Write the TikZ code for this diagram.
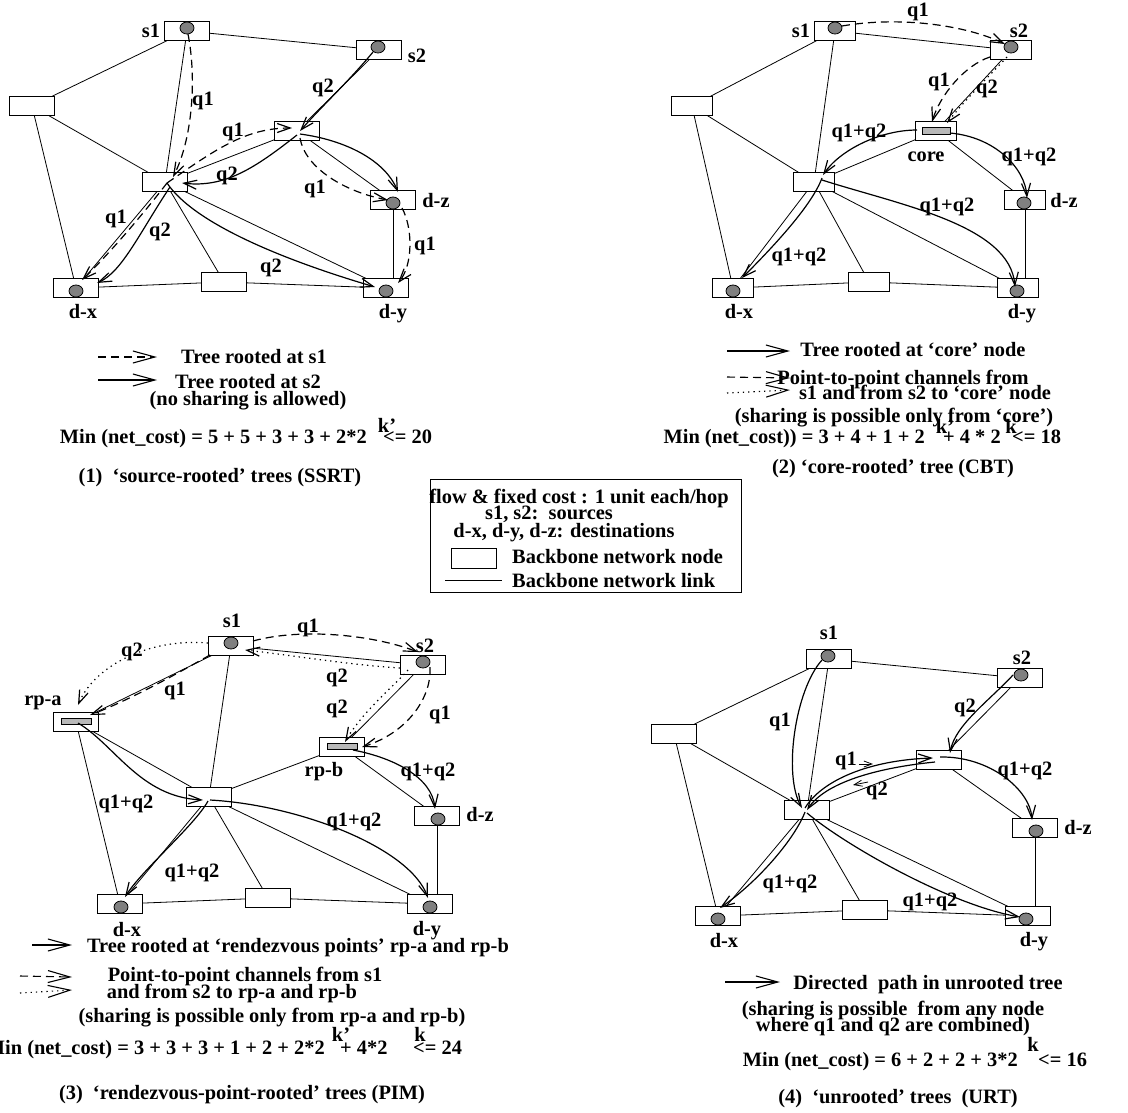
\documentclass[tikz,border=0pt]{standalone}
\usepackage{fontspec}
\setmainfont{Liberation Serif}
\usetikzlibrary{arrows.meta,shapes.geometric}
\tikzset{
  every node/.style={font=\fontsize{20.4}{21}\selectfont\bfseries},
  box/.style={draw, rectangle, minimum width=44.5pt, minimum height=18.5pt, inner sep=0pt, line width=0.9pt, fill=white},
  boxb/.style={box, minimum width=41pt},
  dot/.style={draw, ellipse, minimum width=14pt, minimum height=12pt, inner sep=0pt, fill=black!50, line width=0.8pt},
  bar/.style={draw, rectangle, minimum width=28pt, minimum height=6.5pt, inner sep=0pt, fill=black!28, line width=0.8pt},
  link/.style={line width=0.8pt},
  flow/.style={line width=1.2pt, -{Straight Barb[length=13pt,width=9pt]}},
  dsh/.style={dash pattern=on 8pt off 5pt},
  dtt/.style={dash pattern=on 1.3pt off 4pt},
  lgarrow/.style={line width=1.1pt, -{Straight Barb[length=22pt,width=12pt]}},
  smallarr/.style={line width=0.8pt, -{Straight Barb[length=8pt,width=6pt]}},
  lbl/.style={inner sep=0pt},
  txt/.style={inner sep=0pt, anchor=base},
}
\begin{document}
\begin{tikzpicture}[x=1pt,y=-1pt]
\useasboundingbox (0,0) rectangle (1128,1112);

% ---------------- Panel A (top-left) ----------------
\node[box] (a-s1) at (187,31) {};
\node[box] (a-s2) at (379,50) {};
\node[box] (a-L)  at (32,106) {};
\node[box] (a-H)  at (165,182) {};
\node[box] (a-M)  at (297,131) {};
\node[box] (a-dz) at (393,200) {};
\node[box] (a-dx) at (76,288) {};
\node[box] (a-B)  at (224,282) {};
\node[box] (a-dy) at (386,288) {};
\node[dot] (a-s1c) at (187,28) {};
\node[dot] (a-s2c) at (378,47) {};
\node[dot] (a-dzc) at (393,203) {};
\node[dot] (a-dxc) at (76,291) {};
\node[dot] (a-dyc) at (386,291) {};

% ---------------- Panel B (top-right) ----------------
\node[boxb] (b-s1) at (835,31) {};
\node[boxb] (b-s2) at (1011,50) {};
\node[boxb] (b-L)  at (692,106) {};
\node[boxb] (b-H)  at (814,182) {};
\node[boxb] (b-M)  at (936,131) {};
\node[boxb] (b-dz) at (1025,200) {};
\node[boxb] (b-dx) at (733,288) {};
\node[boxb] (b-B)  at (869,282) {};
\node[boxb] (b-dy) at (1018,288) {};
\node[dot] (b-s1c) at (835,28) {};
\node[dot] (b-s2c) at (1011,47) {};
\node[dot] (b-dzc) at (1024,203) {};
\node[dot] (b-dxc) at (733,291) {};
\node[dot] (b-dyc) at (1017,291) {};
\node[bar] (b-bar) at (936,131) {};

% ---------------- Panel C (bottom-left) ----------------
\node[box] (c-s1) at (231,646) {};
\node[box] (c-s2) at (423,665) {};
\node[box] (c-L)  at (76,722) {};
\node[box] (c-H)  at (209,797) {};
\node[box] (c-M)  at (342,747) {};
\node[box] (c-dz) at (437,816) {};
\node[box] (c-dx) at (120,904) {};
\node[box] (c-B)  at (268,898) {};
\node[box] (c-dy) at (430,904) {};
\node[dot] (c-s1c) at (231,643) {};
\node[dot] (c-s2c) at (423,662) {};
\node[dot] (c-dzc) at (438,819) {};
\node[dot] (c-dxc) at (121,907) {};
\node[dot] (c-dyc) at (430,907) {};
\node[bar, minimum width=30pt] (c-bara) at (76,721.5) {};
\node[bar, minimum width=30pt] (c-barb) at (342,746.5) {};

% ---------------- Panel D (bottom-right) ----------------
\node[box] (d-s1) at (829,659) {};
\node[box] (d-s2) at (1020,678) {};
\node[box] (d-L)  at (674,734) {};
\node[box] (d-H)  at (807,810) {};
\node[box] (d-M)  at (939,760) {};
\node[box] (d-dz) at (1035,828) {};
\node[box] (d-dx) at (718,916) {};
\node[box] (d-B)  at (865,910) {};
\node[box] (d-dy) at (1028,916) {};
\node[dot] (d-s1c) at (828,656) {};
\node[dot] (d-s2c) at (1021,675) {};
\node[dot] (d-dzc) at (1036,831) {};
\node[dot] (d-dxc) at (718,919) {};
\node[dot] (d-dyc) at (1026,919) {};

% ---------------- backbone links ----------------
\foreach \p in {a,b,c,d}{
  \draw[link] (\p-s1) -- (\p-s2);
  \draw[link] (\p-s1) -- (\p-L);
  \draw[link] (\p-s1) -- (\p-H);
  \draw[link] (\p-L) -- (\p-H);
  \draw[link] (\p-L) -- (\p-dx);
  \draw[link] (\p-H) -- (\p-M);
  \draw[link] (\p-s2) -- (\p-M);
  \draw[link] (\p-M) -- (\p-dz);
  \draw[link] (\p-H) -- (\p-dx);
  \draw[link] (\p-H) -- (\p-B);
  \draw[link] (\p-H) -- (\p-dy);
  \draw[link] (\p-dx) -- (\p-B);
  \draw[link] (\p-B) -- (\p-dy);
  \draw[link] (\p-dz.south) -- (\p-dz.south |- \p-dy.north);
}

% ---------------- flows panel A ----------------
\draw[flow,dsh] ([shift={(1,6)}]a-s1c.center) .. controls (197,80) and (192,140) .. ([shift={(8,-5)}]a-H.center);
\draw[flow,dsh] ([shift={(2,1)}]a-H.center) .. controls (215,150) and (245,128) .. ([shift={(-5,-3)}]a-M.center);
\draw[flow] ([shift={(-5,5)}]a-s2c.center) .. controls (350,80) and (322,106) .. ([shift={(3,0)}]a-M.center);
\draw[flow] ([shift={(0,4)}]a-M.center) .. controls (255,168) and (225,188) .. ([shift={(17,1)}]a-H.center);
\draw[flow,dsh] ([shift={(3,7)}]a-M.center) .. controls (305,168) and (345,192) .. ([shift={(-5,-3)}]a-dzc.center);
\draw[flow] ([shift={(3,3)}]a-M.center) .. controls (345,140) and (385,160) .. ([shift={(5,-8)}]a-dz.center);
\draw[flow,dsh] ([shift={(9,5)}]a-dzc.center) .. controls (413,228) and (413,265) .. ([shift={(12,-5)}]a-dy.center);
\draw[flow,dsh] ([shift={(2,1)}]a-H.center) .. controls (140,218) and (108,255) .. ([shift={(6,-8)}]a-dx.center);
\draw[flow] ([shift={(5,5)}]a-H.center) .. controls (140,232) and (122,272) .. ([shift={(21,-5)}]a-dx.center);
\draw[flow] ([shift={(2,1)}]a-H.center) .. controls (195,225) and (290,262) .. ([shift={(-11,-1)}]a-dy.center);

\node[lbl] (a-q1) at (203,101) {q1};
\node[lbl] (a-q2) at (323,88) {q2};
\node[lbl] (a-q3) at (233,132) {q1};
\node[lbl] (a-q4) at (227,176) {q2};
\node[lbl] (a-q5) at (315,189) {q1};
\node[lbl] (a-q6) at (425,246) {q1};
\node[lbl] (a-q7) at (116,219) {q1};
\node[lbl] (a-q8) at (160,232) {q2};
\node[lbl] (a-q9) at (271,268) {q2};
\node[lbl] (a-ts1) at (151,31) {s1};
\node[lbl] (a-ts2) at (417,56) {s2};
\node[lbl] (a-tdz) at (436,201) {d-z};
\node[lbl] (a-tdx) at (83,312) {d-x};
\node[lbl] (a-tdy) at (393,314) {d-y};

% ---------------- flows panel B ----------------
\draw[flow,dsh] ([shift={(7,-2)}]b-s1c.center) .. controls (900,16) and (965,25) .. ([shift={(-6,-3)}]b-s2c.center);
\draw[flow,dsh] ([shift={(-21,7)}]b-s2.center) .. controls (965,65) and (940,95) .. ([shift={(-4,-9)}]b-M.center);
\draw[flow,dtt] ([shift={(-4,7)}]b-s2.center) .. controls (990,75) and (965,100) .. ([shift={(11,-8)}]b-M.center);
\draw[flow] ([shift={(-19,-1)}]b-M.center) .. controls (880,130) and (840,150) .. ([shift={(9,-7)}]b-H.center);
\draw[flow] ([shift={(14,2)}]b-M.center) .. controls (995,137) and (1025,168) .. ([shift={(2,-2)}]b-dz.center);
\draw[flow] ([shift={(8,-4)}]b-H.center) .. controls (812,205) and (775,245) .. ([shift={(9,-10)}]b-dx.center);
\draw[flow] ([shift={(8,-2)}]b-H.center) .. controls (900,205) and (1010,225) .. ([shift={(-3,-1)}]b-dy.center);

\node[lbl] (b-q1) at (918,12) {q1};
\node[lbl] (b-q2) at (939,82) {q1};
\node[lbl] (b-q3) at (987,89) {q2};
\node[lbl] (b-q4) at (859,133) {q1+q2};
\node[lbl] (b-q5) at (1029,157) {q1+q2};
\node[lbl] (b-q6) at (947,207) {q1+q2};
\node[lbl] (b-q7) at (799,257) {q1+q2};
\node[lbl] (b-ts1) at (801,31) {s1};
\node[lbl] (b-ts2) at (1019,31) {s2};
\node[lbl] (b-tcore) at (926,157) {core};
\node[lbl] (b-tdz) at (1064,201) {d-z};
\node[lbl] (b-tdx) at (739,312) {d-x};
\node[lbl] (b-tdy) at (1022,314) {d-y};

% ---------------- flows panel C ----------------
\draw[flow,dsh] ([shift={(22,-5)}]c-s1.center) .. controls (300,628) and (370,634) .. ([shift={(-5,-13)}]c-s2.center);
\draw[flow,dtt] ([shift={(-23,3)}]c-s2.center) .. controls (350,665) and (290,655) .. ([shift={(14,4)}]c-s1.center);
\draw[flow,dtt] ([shift={(-23,-3)}]c-s1.center) .. controls (150,638) and (95,665) .. ([shift={(2,-17)}]c-L.center);
\draw[flow,dsh] ([shift={(-21,9)}]c-s1.center) .. controls (180,672) and (130,700) .. ([shift={(14,-7)}]c-L.center);
\draw[flow,dtt] ([shift={(-15,5)}]c-s2.center) .. controls (395,685) and (362,712) .. ([shift={(3,-5)}]c-M.center);
\draw[flow,dsh] ([shift={(7,2)}]c-s2.center) .. controls (432,695) and (410,732) .. ([shift={(20,0)}]c-M.center);
\draw[flow] ([shift={(2,1)}]c-L.center) .. controls (115,745) and (140,797) .. ([shift={(-6,3)}]c-H.center);
\draw[flow] ([shift={(1,3)}]c-H.center) .. controls (300,805) and (410,848) .. ([shift={(-2,-6)}]c-dy.center);
\draw[flow] ([shift={(-1,4)}]c-H.center) .. controls (195,825) and (142,870) .. ([shift={(5,-7)}]c-dx.center);
\draw[flow] ([shift={(11,3)}]c-M.center) .. controls (395,758) and (432,778) .. ([shift={(-2,-7)}]c-dz.center);

\node[lbl] (c-q1) at (308,628) {q1};
\node[lbl] (c-q2) at (132,652) {q2};
\node[lbl] (c-q3) at (175,691) {q1};
\node[lbl] (c-q4) at (337,678) {q2};
\node[lbl] (c-q5) at (337,709) {q2};
\node[lbl] (c-q6) at (440,715) {q1};
\node[lbl] (c-q7) at (428,772) {q1+q2};
\node[lbl] (c-q8) at (126,804) {q1+q2};
\node[lbl] (c-q9) at (354,822) {q1+q2};
\node[lbl] (c-q10) at (192,873) {q1+q2};
\node[lbl] (c-ts1) at (232,621) {s1};
\node[lbl] (c-ts2) at (425,646) {s2};
\node[lbl] (c-trpa) at (43,703) {rp-a};
\node[lbl] (c-trpb) at (324,772) {rp-b};
\node[lbl] (c-tdz) at (480,815) {d-z};
\node[lbl] (c-tdx) at (127,930) {d-x};
\node[lbl] (c-tdy) at (427,931) {d-y};

% ---------------- flows panel D ----------------
\draw[flow] ([shift={(-6,4)}]d-s1c.center) .. controls (795,690) and (783,775) .. ([shift={(-5,-2)}]d-H.center);
\draw[flow] ([shift={(-8,0)}]d-s2c.center) .. controls (990,700) and (955,725) .. ([shift={(11,-7)}]d-M.center);
\draw[flow] ([shift={(-2,-2)}]d-H.center) .. controls (822,780) and (870,760) .. ([shift={(-6,-2)}]d-M.center);
\draw[flow] ([shift={(-4,2)}]d-M.center) .. controls (875,768) and (825,783) .. ([shift={(0,0)}]d-H.center);
\draw[flow] ([shift={(1,-3)}]d-M.center) .. controls (990,756) and (1030,790) .. ([shift={(-3,-8)}]d-dz.center);
\draw[flow] ([shift={(-2,2)}]d-H.center) .. controls (795,838) and (760,880) .. ([shift={(2,-8)}]d-dx.center);
\draw[flow] ([shift={(0,3)}]d-H.center) .. controls (845,845) and (950,905) .. ([shift={(-8,1)}]d-dy.center);

\node[lbl] (d-q1) at (780,722) {q1};
\node[lbl] (d-q2) at (965,708) {q2};
\node[lbl] (d-q3) at (846,761) {q1};
\node[lbl] (d-q4) at (877,791) {q2};
\node[lbl] (d-q5) at (1025,771) {q1+q2};
\node[lbl] (d-q6) at (790,884) {q1+q2};
\node[lbl] (d-q7) at (930,902) {q1+q2};
\draw[smallarr] ([shift={(2,3)}]d-q3.east) -- ++(14,0);
\draw[smallarr] ([shift={(-9,-9)}]d-q4.center) -- ++(-15,3);
\node[lbl] (d-ts1) at (829,633) {s1};
\node[lbl] (d-ts2) at (1022,658) {s2};
\node[lbl] (d-tdz) at (1078,828) {d-z};
\node[lbl] (d-tdx) at (724,941) {d-x};
\node[lbl] (d-tdy) at (1034,942) {d-y};

% ---------------- legend panel A ----------------
\coordinate (a-la1) at (98,357);  \coordinate (a-la2) at (157,357);
\coordinate (a-lb1) at (98,380);  \coordinate (a-lb2) at (157,380);
\draw[lgarrow,dsh] (a-la1) -- (a-la2);
\draw[lgarrow] (a-lb1) -- (a-lb2);
\node[txt] (a-t1) at (254,363) {Tree rooted at s1};
\node[txt] (a-t2) at (248,388) {Tree rooted at s2};
\node[txt] (a-t3) at (248,405) {(no sharing is allowed)};
\node[txt, anchor=base east] (a-t4) at (367,443) {Min (net\_cost) = 5 + 5 + 3 + 3 + 2*2};
\node[txt] (a-t5) at (387,432) {k’};
\node[txt, anchor=base west] (a-t6) at (383,443) {<= 20};
\node[txt] (a-t7) at (220,482) {(1)\ \ ‘source-rooted’ trees (SSRT)};

% ---------------- legend panel B ----------------
\coordinate (b-la1) at (727,351); \coordinate (b-la2) at (790,351);
\coordinate (b-lb1) at (727,377); \coordinate (b-lb2) at (790,378);
\coordinate (b-lc1) at (727,393); \coordinate (b-lc2) at (790,390);
\draw[lgarrow] (b-la1) -- (b-la2);
\draw[lgarrow,dsh] (b-lb1) -- (b-lb2);
\draw[lgarrow,dtt] (b-lc1) -- (b-lc2);
\node[txt] (b-t1) at (913,356) {Tree rooted at ‘core’ node};
\node[txt] (b-t2) at (903,384) {Point-to-point channels from};
\node[txt] (b-t3) at (925,399) {s1 and from s2 to ‘core’ node};
\node[txt] (b-t4) at (894,422) {(sharing is possible only from ‘core’)};
\node[txt, anchor=base east] (b-t5) at (925,443) {Min (net\_cost)) = 3 + 4 + 1 + 2};
\node[txt] (b-t6) at (945,433) {k’};
\node[txt, anchor=base west] (b-t7) at (943,443) {+ 4 * 2};
\node[txt] (b-t8) at (1011,433) {k};
\node[txt, anchor=base west] (b-t9) at (1012,443) {<= 18};
\node[txt] (b-t10) at (893,473) {(2) ‘core-rooted’ tree (CBT)};

% ---------------- central legend box ----------------
\draw[line width=1pt] (430,479) rectangle (741,592);
\node[txt] (k-t1) at (579,503) {flow \& fixed cost : 1 unit each/hop};
\node[txt] (k-t2) at (549,519) {s1, s2:\ \ sources};
\node[txt] (k-t3) at (564,537) {d-x, d-y, d-z: destinations};
\node[box, minimum width=45pt, minimum height=20pt] (k-box) at (474,558) {};
\node[txt, anchor=base west] (k-t4) at (512,563) {Backbone network node};
\coordinate (k-l1) at (445,580); \coordinate (k-l2) at (502,580);
\draw[link] (k-l1) -- (k-l2);
\node[txt, anchor=base west] (k-t5) at (512,587) {Backbone network link};

% ---------------- legend panel C ----------------
\coordinate (c-la1) at (32,945); \coordinate (c-la2) at (72,945);
\coordinate (c-lb1) at (20,976); \coordinate (c-lb2) at (72,977);
\coordinate (c-lc1) at (20,993); \coordinate (c-lc2) at (72,990);
\draw[lgarrow] (c-la1) -- (c-la2);
\draw[lgarrow,dsh] (c-lb1) -- (c-lb2);
\draw[lgarrow,dtt] (c-lc1) -- (c-lc2);
\node[txt] (c-t1) at (298,952) {Tree rooted at ‘rendezvous points’ rp-a and rp-b};
\node[txt] (c-t2) at (245,981) {Point-to-point channels from s1};
\node[txt] (c-t3) at (232,998) {and from s2 to rp-a and rp-b};
\node[txt] (c-t4) at (272,1022) {(sharing is possible only from rp-a and rp-b)};
\node[txt, anchor=base east] (c-t5) at (325,1054) {Min (net\_cost) = 3 + 3 + 3 + 1 + 2 + 2*2};
\node[txt] (c-t6) at (341,1041) {k’};
\node[txt, anchor=base west] (c-t7) at (340,1054) {+ 4*2};
\node[txt] (c-t8) at (420,1041) {k};
\node[txt, anchor=base west] (c-t9) at (413,1054) {<= 24};
\node[txt] (c-t10) at (242,1099) {(3)\ \ ‘rendezvous-point-rooted’ trees (PIM)};

% ---------------- legend panel D ----------------
\coordinate (d-la1) at (725,982); \coordinate (d-la2) at (780,982);
\draw[lgarrow] (d-la1) -- (d-la2);
\node[txt] (d-t1) at (928,989) {Directed\ \ path in unrooted tree};
\node[txt] (d-t2) at (893,1015) {(sharing is possible\ \ from any node};
\node[txt] (d-t3) at (893,1031) {where q1 and q2 are combined)};
\node[txt, anchor=base east] (d-t4) at (1018,1066) {Min (net\_cost) = 6 + 2 + 2 + 3*2};
\node[txt] (d-t5) at (1033,1051) {k};
\node[txt, anchor=base west] (d-t6) at (1038,1066) {<= 16};
\node[txt] (d-t7) at (898,1103) {(4)\ \ ‘unrooted’ trees\ \ (URT)};

\end{tikzpicture}
\end{document}
